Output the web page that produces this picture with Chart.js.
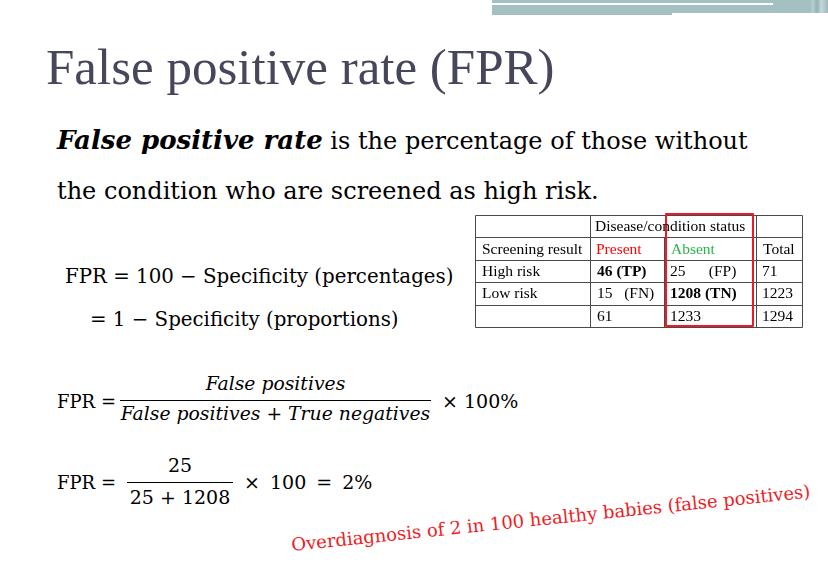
<!DOCTYPE html>
<html>
<head>
<meta charset="utf-8">
<script src="https://cdn.jsdelivr.net/npm/chart.js@4/dist/chart.umd.min.js"></script>
<style>
  html, body { margin: 0; padding: 0; background: #fff; }
  #slide { position: relative; width: 828px; height: 580px; overflow: hidden; font-family: "Liberation Serif", serif; color: #000; }
  .abs { position: absolute; white-space: pre; line-height: 1; }
  .deco { position: absolute; background: #a4c0c3; }
  .dv { font-family: "DejaVu Serif", serif; }
  .math { font-family: "DejaVu Serif", serif; }
  .mi { font-family: "DejaVu Serif", serif; font-style: italic; }
  .bar { position: absolute; height: 1px; background: #000; }
  #tableChart { position: absolute; left: 470px; top: 208px; }
</style>
</head>
<body>
<div id="slide">
  <!-- top right ribbon -->
  <div class="deco" style="left:492px; top:0; width:336px; height:3px;"></div>
  <div class="deco" style="left:492px; top:5px; width:180px; height:10px;"></div>
  <div class="deco" style="left:672px; top:5px; width:101px; height:8px;"></div>
  <div class="deco" style="left:773px; top:0; width:55px; height:13px; background:linear-gradient(90deg,#a4c0c3 0,#a4c0c3 68%,#b9d0d2 72%,#93b1b4 80%,#c4d8da 88%,#9cb9bc 100%);"></div>

  <div class="abs" style="left:46px; top:42px; font-size:51px; color:#47475c;">False positive rate (FPR)</div>

  <div class="abs dv" style="left:57px; top:127px; font-size:24px;"><b><i style="font-size:26px;">False positive rate</i></b> is the percentage of those without</div>
  <div class="abs dv" style="left:57px; top:179px; font-size:24px;">the condition who are screened as high risk.</div>

  <div class="abs dv" style="left:65px; top:267px; font-size:19.8px;">FPR = 100 − Specificity (percentages)</div>
  <div class="abs dv" style="left:90px; top:310px; font-size:19.8px;">= 1 − Specificity (proportions)</div>

  <!-- formula 1 -->
  <div class="abs math" style="left:57px; top:393px; font-size:18px;">FPR =</div>
  <div class="abs mi" style="left:120px; width:311px; text-align:center; top:375px; font-size:18.8px;">False positives</div>
  <div class="bar" style="left:120px; width:311px; top:400px;"></div>
  <div class="abs mi" style="left:120px; width:311px; text-align:center; top:405px; font-size:18.8px;">False positives + True negatives</div>
  <div class="abs math" style="left:442px; top:392px; font-size:19px;">× 100%</div>

  <!-- formula 2 -->
  <div class="abs math" style="left:57px; top:474px; font-size:18px;">FPR =</div>
  <div class="abs math" style="left:127px; width:106px; text-align:center; top:456px; font-size:19px;">25</div>
  <div class="bar" style="left:127px; width:106px; top:482px;"></div>
  <div class="abs math" style="left:127px; width:106px; text-align:center; top:488px; font-size:19px;">25 + 1208</div>
  <div class="abs math" style="left:244px; top:473px; font-size:19px; word-spacing:4px;">× 100 = 2%</div>

  <div class="abs dv" style="left:292px; top:536px; font-size:18px; color:#ee1c25; transform-origin:0 15px; transform:rotate(-5.9deg);">Overdiagnosis of 2 in 100 healthy babies (false positives)</div>

  <canvas id="tableChart" width="340" height="125"></canvas>
</div>

<script>
// table contents
const headerTop = 'Disease/condition status';
const colHeaders = ['Screening result', 'Present', 'Absent', 'Total'];
const rowLabels = ['High risk', 'Low risk', ''];
const presentValues = [46, 15, 61];
const absentValues = [25, 1208, 1233];
const totalValues = [71, 1223, 1294];
const cellTags = [['(TP)', '(FP)'], ['(FN)', '(TN)']];

// layout of the table (in canvas units)
const colEdges = [5, 120, 194, 286, 332];
const pad = 7;
const headerColors = ['#000', '#ff0000', '#2db34a', '#000'];
const tagGap = [['', '      '], ['   ', '']];

function cellLabel(value, r, c) {
  if (r < 2) return value + (tagGap[r][c] || ' ') + cellTags[r][c];
  return String(value);
}

// one dataset per column, each point is a cell
const columns = [[], [], [], []];
columns[1].push({ x: colEdges[1] + pad - 2, y: 0.5, text: headerTop });
colHeaders.forEach((h, c) => {
  columns[c].push({ x: colEdges[c] + pad - (c === 1 ? 1 : 0), y: 1.5, text: h, color: headerColors[c] });
});
rowLabels.forEach((lab, r) => {
  const y = r + 2.5;
  columns[0].push({ x: colEdges[0] + pad, y: y, text: lab });
  columns[1].push({ x: colEdges[1] + pad, y: y, text: cellLabel(presentValues[r], r, 0), bold: r === 0 });
  columns[2].push({ x: colEdges[2] + pad - 1, y: y, text: cellLabel(absentValues[r], r, 1), bold: r === 1 });
  columns[3].push({ x: colEdges[3] + pad - 1, y: y, text: String(totalValues[r]) });
});

const tableLines = {
  id: 'tableLines',
  beforeDatasetsDraw(chart) {
    const { ctx, scales: { x, y } } = chart;
    const px = v => Math.round(x.getPixelForValue(v)) + 0.5;
    const py = v => Math.round(y.getPixelForValue(v)) + 0.5;
    ctx.save();
    ctx.strokeStyle = '#4a4a4a';
    ctx.lineWidth = 1;
    ctx.beginPath();
    for (let r = 0; r <= 5; r++) {
      ctx.moveTo(px(colEdges[0]), py(r));
      ctx.lineTo(px(colEdges[4]), py(r));
    }
    colEdges.forEach((e, i) => {
      ctx.moveTo(px(e), py(i === 2 ? 1 : 0));
      ctx.lineTo(px(e), py(5));
    });
    ctx.stroke();
    ctx.restore();
  },
  afterDatasetsDraw(chart) {
    // red box round the Absent column
    const { ctx, scales: { x, y } } = chart;
    ctx.save();
    ctx.strokeStyle = '#ec1c24';
    ctx.lineWidth = 2;
    ctx.lineJoin = 'round';
    const l = x.getPixelForValue(colEdges[2] + 2), rr = x.getPixelForValue(colEdges[3] - 3);
    const t = y.getPixelForValue(-0.04), b = y.getPixelForValue(4.95);
    ctx.strokeRect(l, t, rr - l, b - t);
    ctx.restore();
  }
};

const cellText = {
  id: 'cellText',
  afterDatasetsDraw(chart) {
    const ctx = chart.ctx;
    ctx.save();
    ctx.textAlign = 'left';
    ctx.textBaseline = 'middle';
    chart.data.datasets.forEach((ds, i) => {
      chart.getDatasetMeta(i).data.forEach((pt, j) => {
        const d = ds.data[j];
        ctx.font = (d.bold ? 'bold ' : '') + '15.5px "Liberation Serif", serif';
        ctx.fillStyle = d.color || '#000';
        ctx.fillText(d.text, pt.x, pt.y + 1);
      });
    });
    ctx.restore();
  }
};

new Chart(document.getElementById('tableChart'), {
  type: 'scatter',
  data: {
    datasets: columns.map((col, c) => ({ label: colHeaders[c], data: col, pointRadius: 0, clip: false }))
  },
  options: {
    responsive: false,
    animation: false,
    events: [],
    layout: { padding: 0 },
    plugins: { legend: { display: false }, tooltip: { enabled: false } },
    scales: {
      x: { type: 'linear', display: false, min: 0, max: 340 },
      y: { type: 'linear', display: false, min: -7 / 22.4, max: 5 + 6 / 22.4, reverse: true }
    }
  },
  plugins: [tableLines, cellText]
});
</script>
</body>
</html>
